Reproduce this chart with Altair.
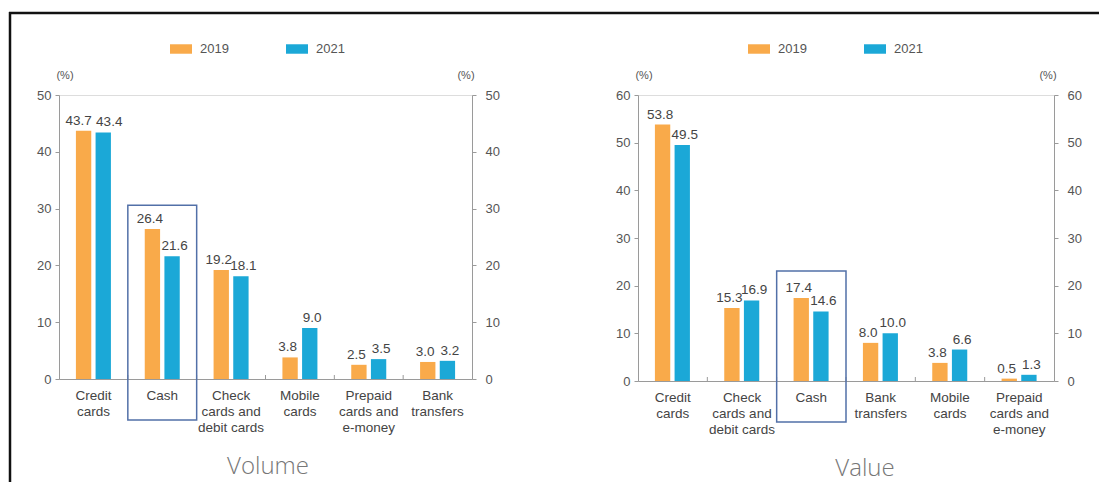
import json
import altair as alt
import pandas as pd

# Payment-instrument shares (%) in 2019 and 2021, by volume and by value
YEARS = ["2019", "2021"]
YEAR_COLORS = ["#F9AA4A", "#1BA8D7"]

vol_categories = ["Credit|cards", "Cash", "Check|cards and|debit cards",
                  "Mobile|cards", "Prepaid|cards and|e-money", "Bank|transfers"]
vol_2019 = [43.7, 26.4, 19.2, 3.8, 2.5, 3.0]
vol_2021 = [43.4, 21.6, 18.1, 9.0, 3.5, 3.2]

val_categories = ["Credit|cards", "Check|cards and|debit cards", "Cash",
                  "Bank|transfers", "Mobile|cards", "Prepaid|cards and|e-money"]
val_2019 = [53.8, 15.3, 17.4, 8.0, 3.8, 0.5]
val_2021 = [49.5, 16.9, 14.6, 10.0, 6.6, 1.3]

FONT = "Liberation Sans"
AXIS_GRAY = "#9a9a9a"
BOX_COLOR = "#5270A8"


def one():
    return alt.Data(values=[{}])


def panel(cats, v19, v21, ymax, width, height, title, title_x, box_top,
          legend_x, spread=(), frame=False):
    n = len(cats)
    df = pd.DataFrame({
        "cat": cats * 2,
        "year": ["2019"] * n + ["2021"] * n,
        "share": v19 + v21,
    })
    yscale = alt.Scale(domain=[0, ymax], nice=False, zero=True)
    ticks = list(range(0, ymax + 1, 10))
    xscale = alt.Scale(paddingInner=0, paddingOuter=0)
    xaxis = alt.Axis(title=None, labelExpr="split(datum.label, '|')", labelAngle=0,
                     ticks=False, domainColor=AXIS_GRAY, labelColor="#444",
                     labelFont=FONT, labelFontSize=13.5, labelLineHeight=16,
                     labelPadding=9)
    x = alt.X("cat:N", sort=cats, scale=xscale, axis=xaxis)
    xo = alt.XOffset("year:N", sort=YEARS,
                     scale=alt.Scale(domain=YEARS, paddingInner=0.22, paddingOuter=0.86))
    yaxis_common = dict(title=None, values=ticks, grid=False, domainColor=AXIS_GRAY,
                        tickColor=AXIS_GRAY, tickSize=4, labelColor="#555",
                        labelFontSize=13, labelFont=FONT)

    bars = alt.Chart(df).mark_bar().encode(
        x=x,
        xOffset=xo,
        y=alt.Y("share:Q", scale=yscale,
                axis=alt.Axis(orient="left", labelPadding=4, **yaxis_common)),
        color=alt.Color("year:N", scale=alt.Scale(domain=YEARS, range=YEAR_COLORS),
                        legend=alt.Legend(orient="none", legendX=legend_x, legendY=-57,
                                          direction="horizontal", title=None,
                                          symbolType="M-1,-0.43L1,-0.43L1,0.43L-1,0.43Z",
                                          symbolSize=484, symbolStrokeWidth=0,
                                          symbolOpacity=1, labelFontSize=13,
                                          labelColor="#555", labelFont=FONT,
                                          labelOffset=8, columnPadding=57)),
    )

    # value labels, the two years nudged slightly apart over each pair of bars
    spread_list = json.dumps(list(spread))
    value_layers = []
    for year, dx_normal, dx_wide in (("2019", -2.5, -5), ("2021", 2.5, 6)):
        for is_wide in (False, True):
            if is_wide and not spread:
                continue
            test = ">= 0" if is_wide else "< 0"
            show_axis = year == "2021" and not is_wide
            layer = alt.Chart(df).transform_filter(
                f"datum.year == '{year}' && indexof({spread_list}, datum.cat) {test}"
            ).mark_text(baseline="bottom", dy=-3, dx=dx_wide if is_wide else dx_normal,
                        fontSize=13.5, color="#444", font=FONT).encode(
                x=x,
                xOffset=xo,
                y=alt.Y("share:Q", scale=yscale,
                        axis=alt.Axis(orient="right", labelPadding=9, **yaxis_common)
                        if show_axis else None),
                text=alt.Text("share:Q", format=".1f"),
            )
            value_layers.append(layer)

    # small upward ticks at the category boundaries
    seps = alt.Chart(pd.DataFrame({"cat": cats[1:]})).mark_rule(
        color=AXIS_GRAY, strokeWidth=1).encode(
        x=alt.X("cat:N", sort=cats, scale=xscale, axis=xaxis, bandPosition=0),
        y=alt.value(height),
        y2=alt.value(height - 4),
    )

    box = alt.Chart(pd.DataFrame({"cat": ["Cash"]})).mark_rect(
        fillOpacity=0, stroke=BOX_COLOR, strokeWidth=1.5).encode(
        x=alt.X("cat:N", sort=cats, scale=xscale, axis=xaxis),
        y=alt.Y(datum=box_top, scale=yscale, axis=None),
        y2=alt.value(height + 41),
    )

    pct_left = alt.Chart(one()).mark_text(fontSize=11, color="#555", font=FONT).encode(
        x=alt.value(6), y=alt.value(-19), text=alt.value("(%)"))
    pct_right = alt.Chart(one()).mark_text(fontSize=11, color="#555", font=FONT).encode(
        x=alt.value(width - 6), y=alt.value(-19), text=alt.value("(%)"))

    name = alt.Chart(one()).mark_text(fontSize=24, color="#777", font="Open Sans",
                                      fontWeight=300).encode(
        x=alt.value(title_x), y=alt.value(height + 88), text=alt.value(title))

    layers = [bars] + value_layers + [seps, box, pct_left, pct_right, name]

    if frame:
        # frame lines along the top and left of the figure
        top = alt.Chart(one()).mark_rule(color="#111", strokeWidth=2.5).encode(
            x=alt.value(-50), x2=alt.value(1040), y=alt.value(-82))
        side = alt.Chart(one()).mark_rule(color="#111", strokeWidth=2.5).encode(
            x=alt.value(-49), y=alt.value(-83), y2=alt.value(height + 110))
        layers += [top, side]

    return alt.layer(*layers).resolve_scale(y="independent").properties(
        width=width, height=height)


volume = panel(vol_categories, vol_2019, vol_2021, 50, 413, 284, "Volume", 209, 30.6,
               111, spread=["Credit|cards"], frame=True)
value = panel(val_categories, val_2019, val_2021, 60, 416, 286, "Value", 227, 23.1,
              110)

chart = alt.hconcat(volume, value, spacing=166, bounds="flush").resolve_scale(
    color="independent"
).properties(
    padding={"left": 7, "top": 10, "right": 0, "bottom": 0}
).configure_view(stroke=None).configure(font=FONT)

chart.save("out.html", embed_options={"renderer": "svg", "actions": False})
